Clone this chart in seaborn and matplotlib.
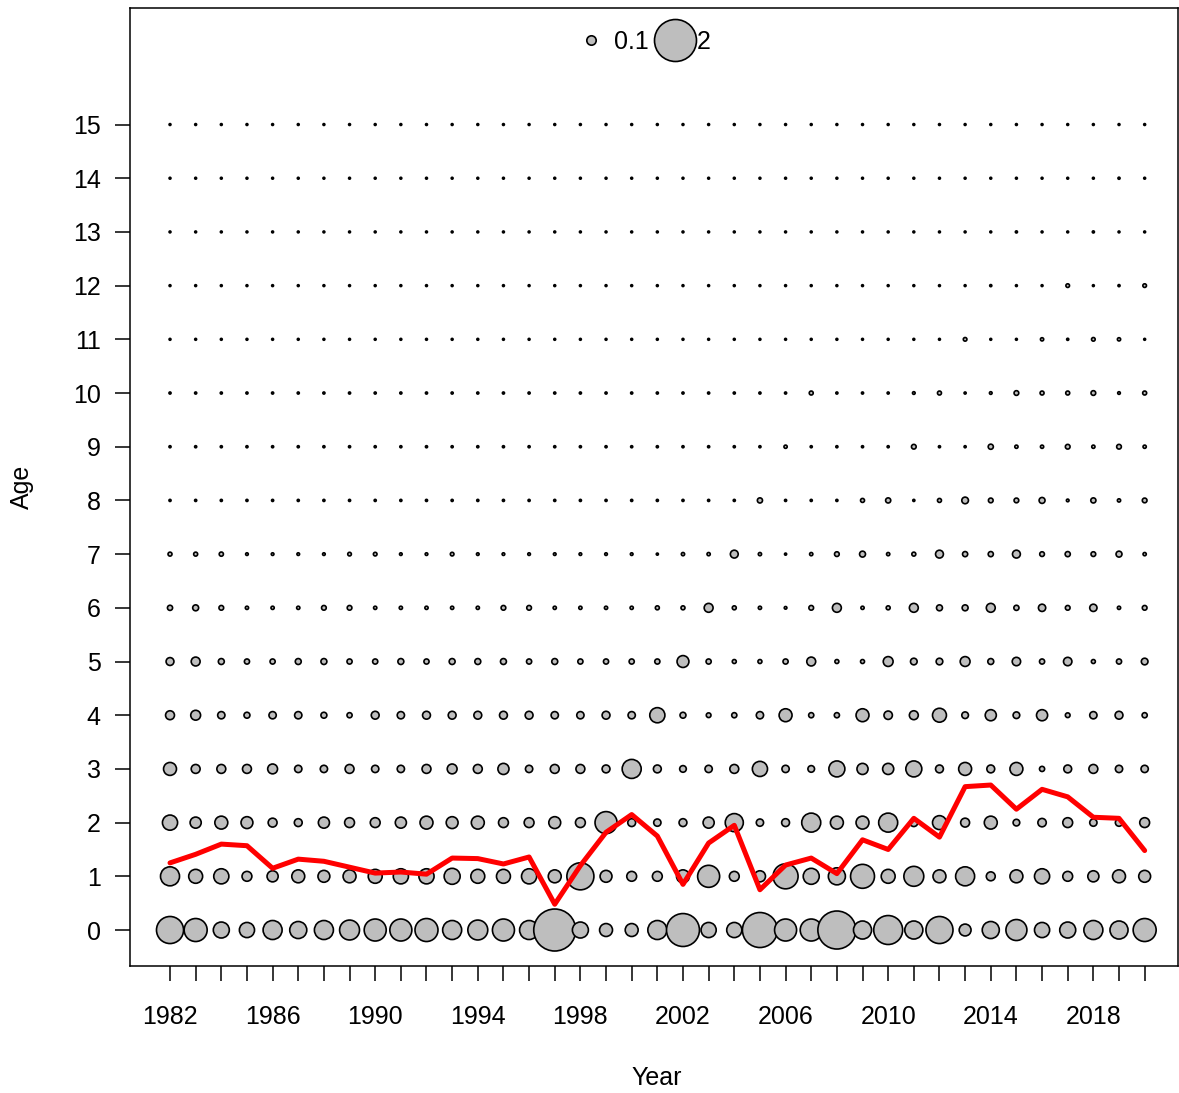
import numpy as np
import pandas as pd
import matplotlib
matplotlib.use("Agg")
import matplotlib.pyplot as plt
from matplotlib.lines import Line2D
import seaborn as sns

# years and ages
years = list(range(1982, 2021))
ages = list(range(0, 16))

# bubble values per age (1982..2020)
age0 = [0.83, 0.60, 0.29, 0.26, 0.41, 0.33, 0.41, 0.45, 0.55, 0.55, 0.60, 0.41, 0.45,
        0.55, 0.41, 2.00, 0.29, 0.19, 0.19, 0.41, 1.23, 0.26, 0.26, 1.39, 0.55, 0.55,
        1.64, 0.37, 0.95, 0.37, 0.83, 0.16, 0.33, 0.50, 0.26, 0.29, 0.41, 0.37, 0.60]
age1 = [0.41, 0.22, 0.26, 0.11, 0.14, 0.19, 0.16, 0.19, 0.22, 0.26, 0.26, 0.29, 0.22,
        0.22, 0.26, 0.19, 0.83, 0.16, 0.11, 0.11, 0.19, 0.55, 0.11, 0.14, 0.71, 0.29,
        0.33, 0.65, 0.22, 0.45, 0.19, 0.41, 0.09, 0.19, 0.26, 0.11, 0.14, 0.19, 0.16]
age2 = [0.26, 0.14, 0.19, 0.16, 0.09, 0.07, 0.14, 0.11, 0.11, 0.14, 0.19, 0.16, 0.19,
        0.11, 0.11, 0.16, 0.11, 0.55, 0.07, 0.06, 0.07, 0.14, 0.37, 0.06, 0.07, 0.41,
        0.19, 0.19, 0.41, 0.07, 0.22, 0.09, 0.19, 0.05, 0.08, 0.11, 0.06, 0.06, 0.11]
age3 = [0.19, 0.09, 0.09, 0.09, 0.11, 0.06, 0.06, 0.09, 0.06, 0.06, 0.09, 0.11, 0.09,
        0.14, 0.06, 0.09, 0.09, 0.07, 0.41, 0.07, 0.05, 0.06, 0.09, 0.26, 0.06, 0.05,
        0.29, 0.14, 0.14, 0.29, 0.07, 0.19, 0.07, 0.19, 0.03, 0.07, 0.09, 0.06, 0.06]
age4 = [0.09, 0.11, 0.06, 0.04, 0.06, 0.06, 0.04, 0.03, 0.07, 0.06, 0.07, 0.07, 0.07,
        0.07, 0.07, 0.06, 0.06, 0.07, 0.06, 0.26, 0.04, 0.025, 0.03, 0.06, 0.19, 0.03,
        0.03, 0.19, 0.08, 0.09, 0.22, 0.05, 0.14, 0.05, 0.14, 0.025, 0.06, 0.07, 0.03]
age5 = [0.07, 0.09, 0.04, 0.03, 0.03, 0.04, 0.04, 0.03, 0.03, 0.04, 0.03, 0.04, 0.04,
        0.04, 0.03, 0.04, 0.03, 0.03, 0.03, 0.03, 0.16, 0.03, 0.018, 0.018, 0.03, 0.09,
        0.018, 0.018, 0.11, 0.05, 0.05, 0.11, 0.04, 0.08, 0.03, 0.08, 0.018, 0.03, 0.05]
age6 = [0.03, 0.04, 0.025, 0.012, 0.012, 0.012, 0.025, 0.025, 0.012, 0.012, 0.012, 0.012, 0.012,
        0.025, 0.025, 0.012, 0.012, 0.012, 0.012, 0.018, 0.018, 0.09, 0.018, 0.012, 0.008, 0.025,
        0.09, 0.012, 0.018, 0.09, 0.04, 0.04, 0.09, 0.03, 0.06, 0.025, 0.06, 0.012, 0.025]
age7 = [0.018, 0.018, 0.02, 0.008, 0.008, 0.008, 0.008, 0.015, 0.015, 0.008, 0.008, 0.015, 0.008,
        0.008, 0.008, 0.008, 0.008, 0.008, 0.008, 0.005, 0.012, 0.012, 0.07, 0.012, 0.005, 0.012,
        0.025, 0.04, 0.012, 0.018, 0.07, 0.03, 0.03, 0.07, 0.025, 0.03, 0.025, 0.04, 0.012]
age8 = [0.005, 0.005, 0.005, 0.005, 0.005, 0.005, 0.005, 0.005, 0.005, 0.005, 0.005, 0.005, 0.005,
        0.005, 0.005, 0.005, 0.005, 0.005, 0.005, 0.005, 0.005, 0.005, 0.005, 0.03, 0.005, 0.005,
        0.005, 0.018, 0.03, 0.005, 0.018, 0.05, 0.025, 0.025, 0.04, 0.008, 0.03, 0.012, 0.025]
age9 = [0.005, 0.005, 0.005, 0.005, 0.005, 0.005, 0.005, 0.005, 0.005, 0.005, 0.005, 0.005, 0.005,
        0.005, 0.005, 0.005, 0.005, 0.005, 0.005, 0.005, 0.005, 0.005, 0.005, 0.005, 0.012, 0.005,
        0.005, 0.005, 0.005, 0.025, 0.005, 0.005, 0.03, 0.012, 0.012, 0.025, 0.012, 0.025, 0.012]
age10 = [0.005, 0.005, 0.005, 0.005, 0.005, 0.005, 0.005, 0.005, 0.005, 0.005, 0.005, 0.005, 0.005,
         0.005, 0.005, 0.005, 0.005, 0.005, 0.005, 0.005, 0.005, 0.005, 0.005, 0.005, 0.005, 0.018,
         0.005, 0.005, 0.005, 0.008, 0.018, 0.005, 0.008, 0.025, 0.018, 0.018, 0.025, 0.008, 0.018]
age11 = [0.004, 0.004, 0.004, 0.004, 0.004, 0.004, 0.004, 0.004, 0.004, 0.004, 0.004, 0.004, 0.004,
         0.004, 0.004, 0.004, 0.004, 0.004, 0.004, 0.004, 0.004, 0.004, 0.004, 0.004, 0.004, 0.004,
         0.004, 0.004, 0.004, 0.004, 0.004, 0.015, 0.004, 0.004, 0.012, 0.005, 0.015, 0.012, 0.004]
age12 = [0.004, 0.004, 0.004, 0.004, 0.004, 0.004, 0.004, 0.004, 0.004, 0.004, 0.004, 0.004, 0.004,
         0.004, 0.004, 0.004, 0.004, 0.004, 0.004, 0.004, 0.004, 0.004, 0.004, 0.004, 0.004, 0.004,
         0.004, 0.004, 0.004, 0.004, 0.004, 0.004, 0.005, 0.004, 0.004, 0.015, 0.004, 0.005, 0.015]
age13 = [0.004, 0.004, 0.004, 0.004, 0.004, 0.004, 0.004, 0.004, 0.004, 0.004, 0.004, 0.004, 0.004,
         0.004, 0.004, 0.004, 0.004, 0.004, 0.004, 0.004, 0.004, 0.004, 0.004, 0.004, 0.004, 0.004,
         0.004, 0.004, 0.004, 0.004, 0.004, 0.004, 0.004, 0.005, 0.004, 0.004, 0.005, 0.004, 0.004]
age14 = [0.004, 0.004, 0.004, 0.004, 0.004, 0.004, 0.004, 0.004, 0.004, 0.004, 0.004, 0.004, 0.004,
         0.004, 0.004, 0.004, 0.004, 0.004, 0.004, 0.004, 0.004, 0.004, 0.004, 0.004, 0.004, 0.004,
         0.004, 0.004, 0.004, 0.004, 0.004, 0.004, 0.004, 0.004, 0.004, 0.004, 0.004, 0.005, 0.004]
age15 = [0.004, 0.004, 0.004, 0.004, 0.004, 0.004, 0.004, 0.004, 0.004, 0.004, 0.004, 0.004, 0.004,
         0.004, 0.004, 0.004, 0.004, 0.004, 0.004, 0.004, 0.004, 0.004, 0.004, 0.004, 0.004, 0.004,
         0.004, 0.004, 0.004, 0.004, 0.004, 0.004, 0.004, 0.004, 0.004, 0.004, 0.004, 0.004, 0.004]

# mean age (red line)
mean_age = [1.25, 1.41, 1.60, 1.57, 1.15, 1.32, 1.28, 1.17, 1.06, 1.08, 1.04, 1.34, 1.33,
            1.23, 1.36, 0.48, 1.20, 1.82, 2.15, 1.75, 0.85, 1.62, 1.95, 0.75, 1.21, 1.34,
            1.05, 1.68, 1.50, 2.08, 1.73, 2.67, 2.70, 2.25, 2.62, 2.48, 2.10, 2.08, 1.48]

legend_vals = [0.1, 2]

rows = [age0, age1, age2, age3, age4, age5, age6, age7,
        age8, age9, age10, age11, age12, age13, age14, age15]

# long table for seaborn
recs = []
for a, row in zip(ages, rows):
    for yr, v in zip(years, row):
        recs.append({"Year": yr, "Age": a, "value": v})
df = pd.DataFrame(recs)

sns.set_style("white")
plt.rcParams["font.family"] = ["Liberation Sans", "DejaVu Sans"]
plt.rcParams["text.color"] = "black"
plt.rcParams["axes.labelcolor"] = "black"
plt.rcParams["xtick.color"] = "black"
plt.rcParams["ytick.color"] = "black"

fig = plt.figure(figsize=(11.79, 10.93), dpi=100)
ax = fig.add_axes([130 / 1179, 1 - 966 / 1093, 1048 / 1179, 958 / 1093])

# area of bubble proportional to value; value 2 -> ~42px diameter
smax = 914
sns.scatterplot(data=df, x="Year", y="Age", size="value", sizes=(0, smax),
                size_norm=(0, 2), color="#BEBEBE", edgecolor="black",
                linewidth=1.2, legend=False, ax=ax, zorder=2)

sns.lineplot(x=years, y=mean_age, color="red", linewidth=3.6, ax=ax, zorder=3)

ax.set_xlim(1980.44, 2021.3)
ax.set_ylim(-0.67, 17.17)

ax.set_xticks(years)
ax.set_xticklabels([str(y) if (y - 1982) % 4 == 0 else "" for y in years])
ax.set_yticks(ages)
ax.set_yticklabels([str(a) for a in ages])
ax.tick_params(axis="both", direction="out", length=11, width=1.1, color="black",
               labelcolor="black", labelsize=18, bottom=True, left=True)
ax.tick_params(axis="x", pad=17)
ax.tick_params(axis="y", pad=10)

for sp in ax.spines.values():
    sp.set_visible(True)
    sp.set_color("black")
    sp.set_linewidth(1.1)

ax.set_xlabel("Year", fontsize=18, va="center")
ax.set_ylabel("Age", fontsize=18, va="center")
ax.xaxis.set_label_coords(0.503, -0.117)
ax.yaxis.set_label_coords(-0.103, 0.5)

# bubble legend
handles = []
for v in legend_vals:
    ms = np.sqrt(smax * v / 2)
    handles.append(Line2D([], [], linestyle="none", marker="o", markersize=ms,
                          markerfacecolor="#BEBEBE", markeredgecolor="black",
                          markeredgewidth=1.2))
ax.legend(handles, [str(v) for v in legend_vals], ncol=2, loc="center",
          bbox_to_anchor=(0.49, 0.965), frameon=False, fontsize=18,
          handletextpad=0.3, columnspacing=0.45, handlelength=1.2)

plt.savefig("out.png", dpi=100)
